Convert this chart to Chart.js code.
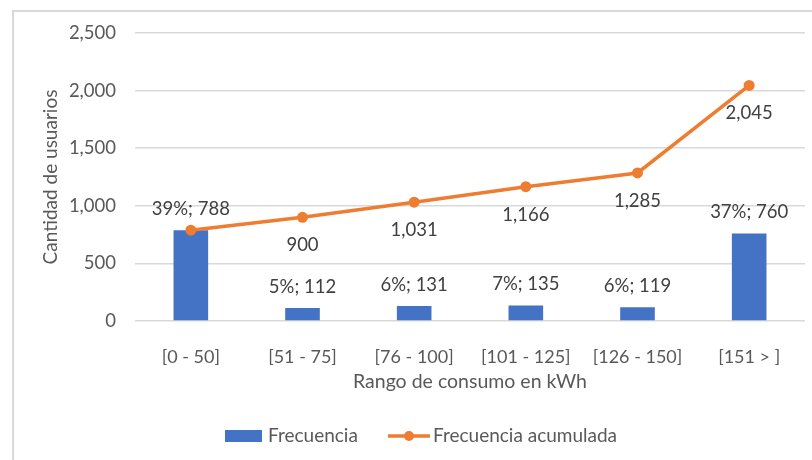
<!DOCTYPE html>
<html><head><meta charset="utf-8">
<script src="https://cdn.jsdelivr.net/npm/chart.js@4.4.1/dist/chart.umd.min.js"></script>
<style>
html,body{margin:0;padding:0;background:#fff;overflow:hidden}
#wrap{position:relative;width:812px;height:460px}
#frame{position:absolute;left:12px;top:10px;width:820px;height:470px;border:2px solid #d9d9d9;box-sizing:border-box}
canvas{position:absolute;left:0;top:0}
</style></head>
<body><div id="wrap"><div id="frame"></div><canvas id="c" width="812" height="460"></canvas></div>
<script>
const categories = ['[0 - 50]','[51 - 75]','[76 - 100]','[101 - 125]','[126 - 150]','[151 > ]'];
const frecuencia = [788, 112, 131, 135, 119, 760];
const porcentaje = ['39%','5%','6%','7%','6%','37%'];
const acumulada = [788, 900, 1031, 1166, 1285, 2045];
const yTicks = [0, 500, 1000, 1500, 2000, 2500];

const BLUE = '#4472C4', ORANGE = '#ED7D31', TXT = '#404040', TICK = '#595959';
const FONT = 'Lato, "Open Sans", sans-serif';

const labelsPlugin = {
  id: 'labels',
  afterDatasetsDraw(chart) {
    const ctx = chart.ctx;
    ctx.save();
    ctx.font = '18.5px ' + FONT;
    ctx.fillStyle = TXT;
    ctx.textAlign = 'center';
    ctx.textBaseline = 'middle';
    const barMeta = chart.getDatasetMeta(0);
    barMeta.data.forEach((el, i) => {
      ctx.fillText(porcentaje[i] + '; ' + frecuencia[i].toLocaleString('en-US'), el.x, el.y - 21);
    });
    const lineMeta = chart.getDatasetMeta(1);
    lineMeta.data.forEach((el, i) => {
      if (i === 0) return;
      ctx.fillText(acumulada[i].toLocaleString('en-US'), el.x, el.y + 28);
    });
    // legend
    const ly = 436;
    ctx.fillStyle = BLUE;
    ctx.fillRect(225, ly - 6, 37, 12);
    ctx.fillStyle = TICK;
    ctx.textAlign = 'left';
    ctx.font = '19px ' + FONT;
    ctx.fillText(chart.data.datasets[0].label, 268, ly);
    ctx.strokeStyle = ORANGE;
    ctx.lineWidth = 3.5;
    ctx.beginPath(); ctx.moveTo(388, ly); ctx.lineTo(430, ly); ctx.stroke();
    ctx.fillStyle = ORANGE;
    ctx.beginPath(); ctx.arc(409, ly, 5, 0, Math.PI * 2); ctx.fill();
    ctx.fillStyle = TICK;
    ctx.fillText(chart.data.datasets[1].label, 433, ly);
    ctx.restore();
  }
};

new Chart(document.getElementById('c'), {
  data: {
    labels: categories,
    datasets: [
      { type: 'bar', label: 'Frecuencia', data: frecuencia, backgroundColor: BLUE,
        categoryPercentage: 1, barPercentage: 0.31, order: 2 },
      { type: 'line', label: 'Frecuencia acumulada', data: acumulada, borderColor: ORANGE,
        backgroundColor: ORANGE, borderWidth: 3.5, pointRadius: 5.5, pointHoverRadius: 5.5,
        pointBackgroundColor: ORANGE, pointBorderWidth: 0, tension: 0, order: 1 }
    ]
  },
  options: {
    responsive: false, animation: false, devicePixelRatio: 1,
    layout: { padding: { left: 36, right: 7, top: 33, bottom: 64 } },
    plugins: { legend: { display: false }, tooltip: { enabled: false } },
    scales: {
      x: {
        grid: { display: false }, border: { display: false },
        ticks: { color: TICK, font: { family: FONT, size: 18 }, padding: 17, maxRotation: 0 },
        title: { display: true, text: 'Rango de consumo en kWh', color: TICK,
          font: { family: FONT, size: 19.5 }, padding: { top: 0, bottom: 3 } },
        afterFit(s) { s.height = 75; }
      },
      y: {
        min: 0, max: 2500,
        afterBuildTicks(s) { s.ticks = yTicks.map(v => ({ value: v })); },
        grid: { color: '#d9d9d9', lineWidth: 1.5, drawTicks: false }, border: { display: false },
        ticks: { color: TICK, font: { family: FONT, size: 18.5 }, padding: 19,
          callback: v => v.toLocaleString('en-US') },
        title: { display: true, text: 'Cantidad de usuarios', color: TICK,
          font: { family: FONT, size: 19 }, padding: { top: 3, bottom: 0 } },
        afterFit(s) { s.width = 99; }
      }
    }
  },
  plugins: [labelsPlugin]
});
</script></body></html>
